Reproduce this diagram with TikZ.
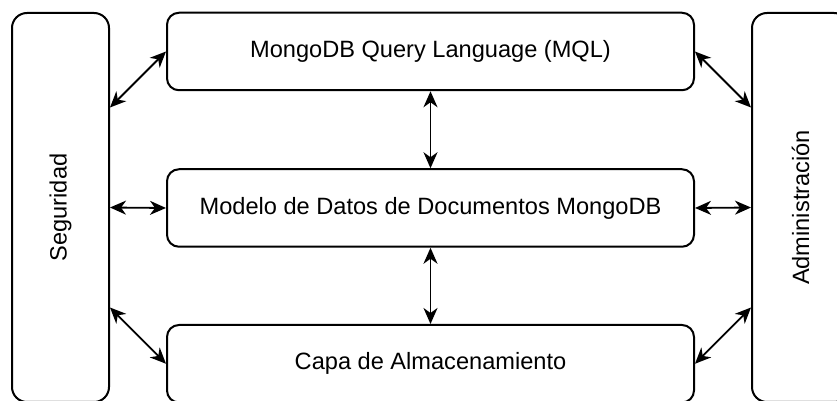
\documentclass[tikz,border=0pt]{standalone}
\usepackage{fontspec}
\setmainfont{Liberation Sans}
\usepackage{graphicx}
\usetikzlibrary{arrows.meta}

\begin{document}
\begin{tikzpicture}[x=0.5pt,y=-0.5pt]
        \tikzset{>={Stealth[length=8pt,width=7pt,inset=2.5pt]}}
        \tikzstyle{capa}=[rectangle,draw=black,line width=1pt,rounded corners=6pt,minimum width=263.5pt,minimum height=38.75pt,inner sep=0pt,font=\fontsize{11.8}{14}\selectfont]
        \tikzstyle{lado}=[capa,rounded corners=7.5pt,minimum width=48.5pt,minimum height=194.5pt]
        \tikzstyle{flecha}=[<->,line width=0.9pt]

        \useasboundingbox (0,0) rectangle (837,401);
        \clip (0,0) rectangle (837,401);

        \node[capa] (mql) at (430.5,51.5) {MongoDB Query Language (MQL)};
        \node[capa] (datos) at (430.5,208) {Modelo de Datos de Documentos MongoDB};
        \node[capa] (alm) at (430.5,363.75) {Capa de Almacenamiento};
        \node[lado] (seg) at (60.5,207.5) {\rotatebox{90}{Seguridad}};
        \node[lado] (adm) at (800.5,207.5) {\rotatebox{90}{Administración}};

        \draw[flecha] ([yshift=50pt]seg.east) -- (mql.west);
        \draw[flecha] (seg.east) -- (datos.west);
        \draw[flecha] ([yshift=-50pt]seg.east) -- (alm.west);
        \draw[flecha] (mql.east) -- ([yshift=50pt]adm.west);
        \draw[flecha] (datos.east) -- (adm.west);
        \draw[flecha] (alm.east) -- ([yshift=-50pt]adm.west);
        \draw[flecha] (mql.south) -- (datos.north);
        \draw[flecha] (datos.south) -- (alm.north);
\end{tikzpicture}
\end{document}
